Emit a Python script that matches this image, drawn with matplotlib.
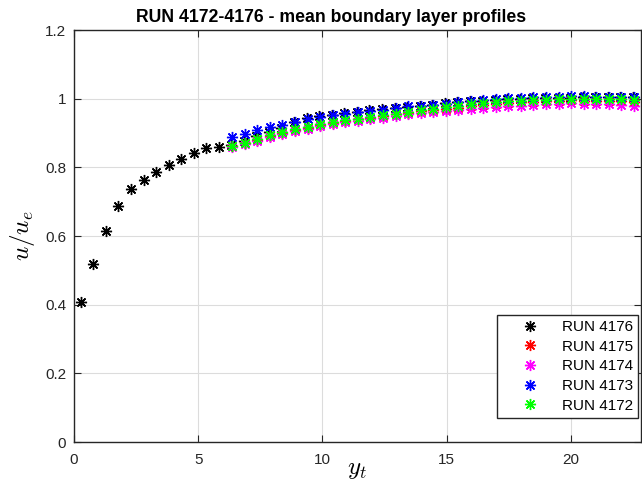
import numpy as np
import matplotlib
matplotlib.use('Agg')
import matplotlib.pyplot as plt

plt.rcParams['font.family'] = ['Liberation Sans', 'DejaVu Sans']
plt.rcParams['mathtext.fontset'] = 'cm'

# RUN 4176 (black)
x_4176 = [0.27, 0.78, 1.28, 1.79, 2.29, 2.80, 3.30, 3.81, 4.31, 4.82, 5.32, 5.83,
          6.33, 6.84, 7.34, 7.85, 8.35, 8.86, 9.36, 9.87, 10.37, 10.88, 11.38, 11.89,
          12.39, 12.90, 13.40, 13.91, 14.41, 14.92, 15.42, 15.93, 16.43, 16.94, 17.44,
          17.95, 18.45, 18.96, 19.46, 19.97, 20.47, 20.98, 21.48, 21.99, 22.49]
u_4176 = [0.407, 0.517, 0.615, 0.688, 0.736, 0.764, 0.787, 0.808, 0.825, 0.843, 0.857, 0.860,
          0.866, 0.876, 0.890, 0.904, 0.916, 0.931, 0.943, 0.950, 0.953, 0.958, 0.962, 0.966,
          0.970, 0.974, 0.977, 0.980, 0.983, 0.986, 0.989, 0.992, 0.994, 0.996, 0.998,
          1.000, 1.001, 1.002, 1.003, 1.003, 1.004, 1.004, 1.005, 1.005, 1.006]

# RUN 4172-4175 share the same y_t stations
x_runs = [6.37, 6.88, 7.38, 7.89, 8.39, 8.90, 9.40, 9.91, 10.41, 10.92, 11.42, 11.93,
          12.43, 12.94, 13.44, 13.95, 14.45, 14.96, 15.46, 15.97, 16.47, 16.98, 17.48,
          17.99, 18.49, 19.00, 19.50, 20.01, 20.51, 21.02, 21.52, 22.03, 22.53]
u_4175 = [0.861, 0.870, 0.880, 0.891, 0.901, 0.909, 0.916, 0.923, 0.929, 0.936, 0.940, 0.945,
          0.949, 0.954, 0.958, 0.963, 0.967, 0.970, 0.974, 0.978, 0.981, 0.984, 0.987,
          0.989, 0.991, 0.993, 0.994, 0.995, 0.994, 0.994, 0.993, 0.992, 0.991]
u_4174 = [0.858, 0.868, 0.878, 0.889, 0.898, 0.906, 0.913, 0.920, 0.926, 0.932, 0.936, 0.941,
          0.945, 0.950, 0.954, 0.958, 0.962, 0.965, 0.968, 0.971, 0.974, 0.976, 0.978,
          0.980, 0.982, 0.984, 0.985, 0.986, 0.985, 0.985, 0.984, 0.982, 0.980]
u_4173 = [0.887, 0.898, 0.908, 0.917, 0.924, 0.932, 0.942, 0.947, 0.951, 0.956, 0.961, 0.965,
          0.968, 0.973, 0.978, 0.978, 0.983, 0.985, 0.990, 0.994, 0.997, 1.000, 1.002,
          1.003, 1.004, 1.005, 1.006, 1.007, 1.007, 1.006, 1.006, 1.006, 1.005]
u_4172 = [0.862, 0.872, 0.882, 0.893, 0.903, 0.911, 0.918, 0.925, 0.931, 0.939, 0.942, 0.948,
          0.951, 0.956, 0.961, 0.968, 0.971, 0.976, 0.980, 0.984, 0.987, 0.990, 0.992,
          0.994, 0.996, 0.997, 0.998, 0.999, 1.000, 0.999, 0.998, 0.998, 0.997]

series = [('RUN 4176', x_4176, u_4176, 'black'),
          ('RUN 4175', x_runs, u_4175, 'red'),
          ('RUN 4174', x_runs, u_4174, 'magenta'),
          ('RUN 4173', x_runs, u_4173, 'blue'),
          ('RUN 4172', x_runs, u_4172, '#00ff00')]

fig = plt.figure(figsize=(6.42, 4.98), dpi=100)
ax = fig.add_axes([74/642, 1-442/498, 567/642, 412/498])

for label, xs, us, col in series:
    ax.plot(xs, us, linestyle='none', marker=(8, 2, 0), markersize=8,
            markeredgewidth=1.0, color=col, label=label)

ax.set_xlim(0, 22.82)
ax.set_ylim(0, 1.2)
ax.set_xticks([0, 5, 10, 15, 20])
ax.set_yticks([0, 0.2, 0.4, 0.6, 0.8, 1.0, 1.2])
ax.set_yticklabels(['0', '0.2', '0.4', '0.6', '0.8', '1', '1.2'])
ax.grid(True, color='#dcdcdc', linewidth=0.8)
ax.set_axisbelow(True)
ax.tick_params(direction='in', top=True, right=True, labelsize=11, colors='#262626', length=5)
ax.tick_params(axis='x', pad=8)
ax.tick_params(axis='y', pad=5.5)
for s in ax.spines.values():
    s.set_color('#262626')
    s.set_linewidth(1.0)

fig.text(331/642, 1-17/498, 'RUN 4172-4176 - mean boundary layer profiles', fontsize=12.7,
         fontweight='bold', ha='center', va='center')
ax.set_xlabel('$y_t$', fontsize=18, labelpad=-7)
ax.set_ylabel('$u/u_e$', fontsize=18, labelpad=6)

leg = ax.legend(loc='lower right', bbox_to_anchor=(0.995, 0.058), borderaxespad=0,
                fontsize=11, fancybox=False, edgecolor='#262626', framealpha=1,
                handletextpad=0.3, borderpad=0.35, labelspacing=0.37, handlelength=3.6)
leg.get_frame().set_linewidth(1.0)

fig.savefig('out.png', dpi=100)
